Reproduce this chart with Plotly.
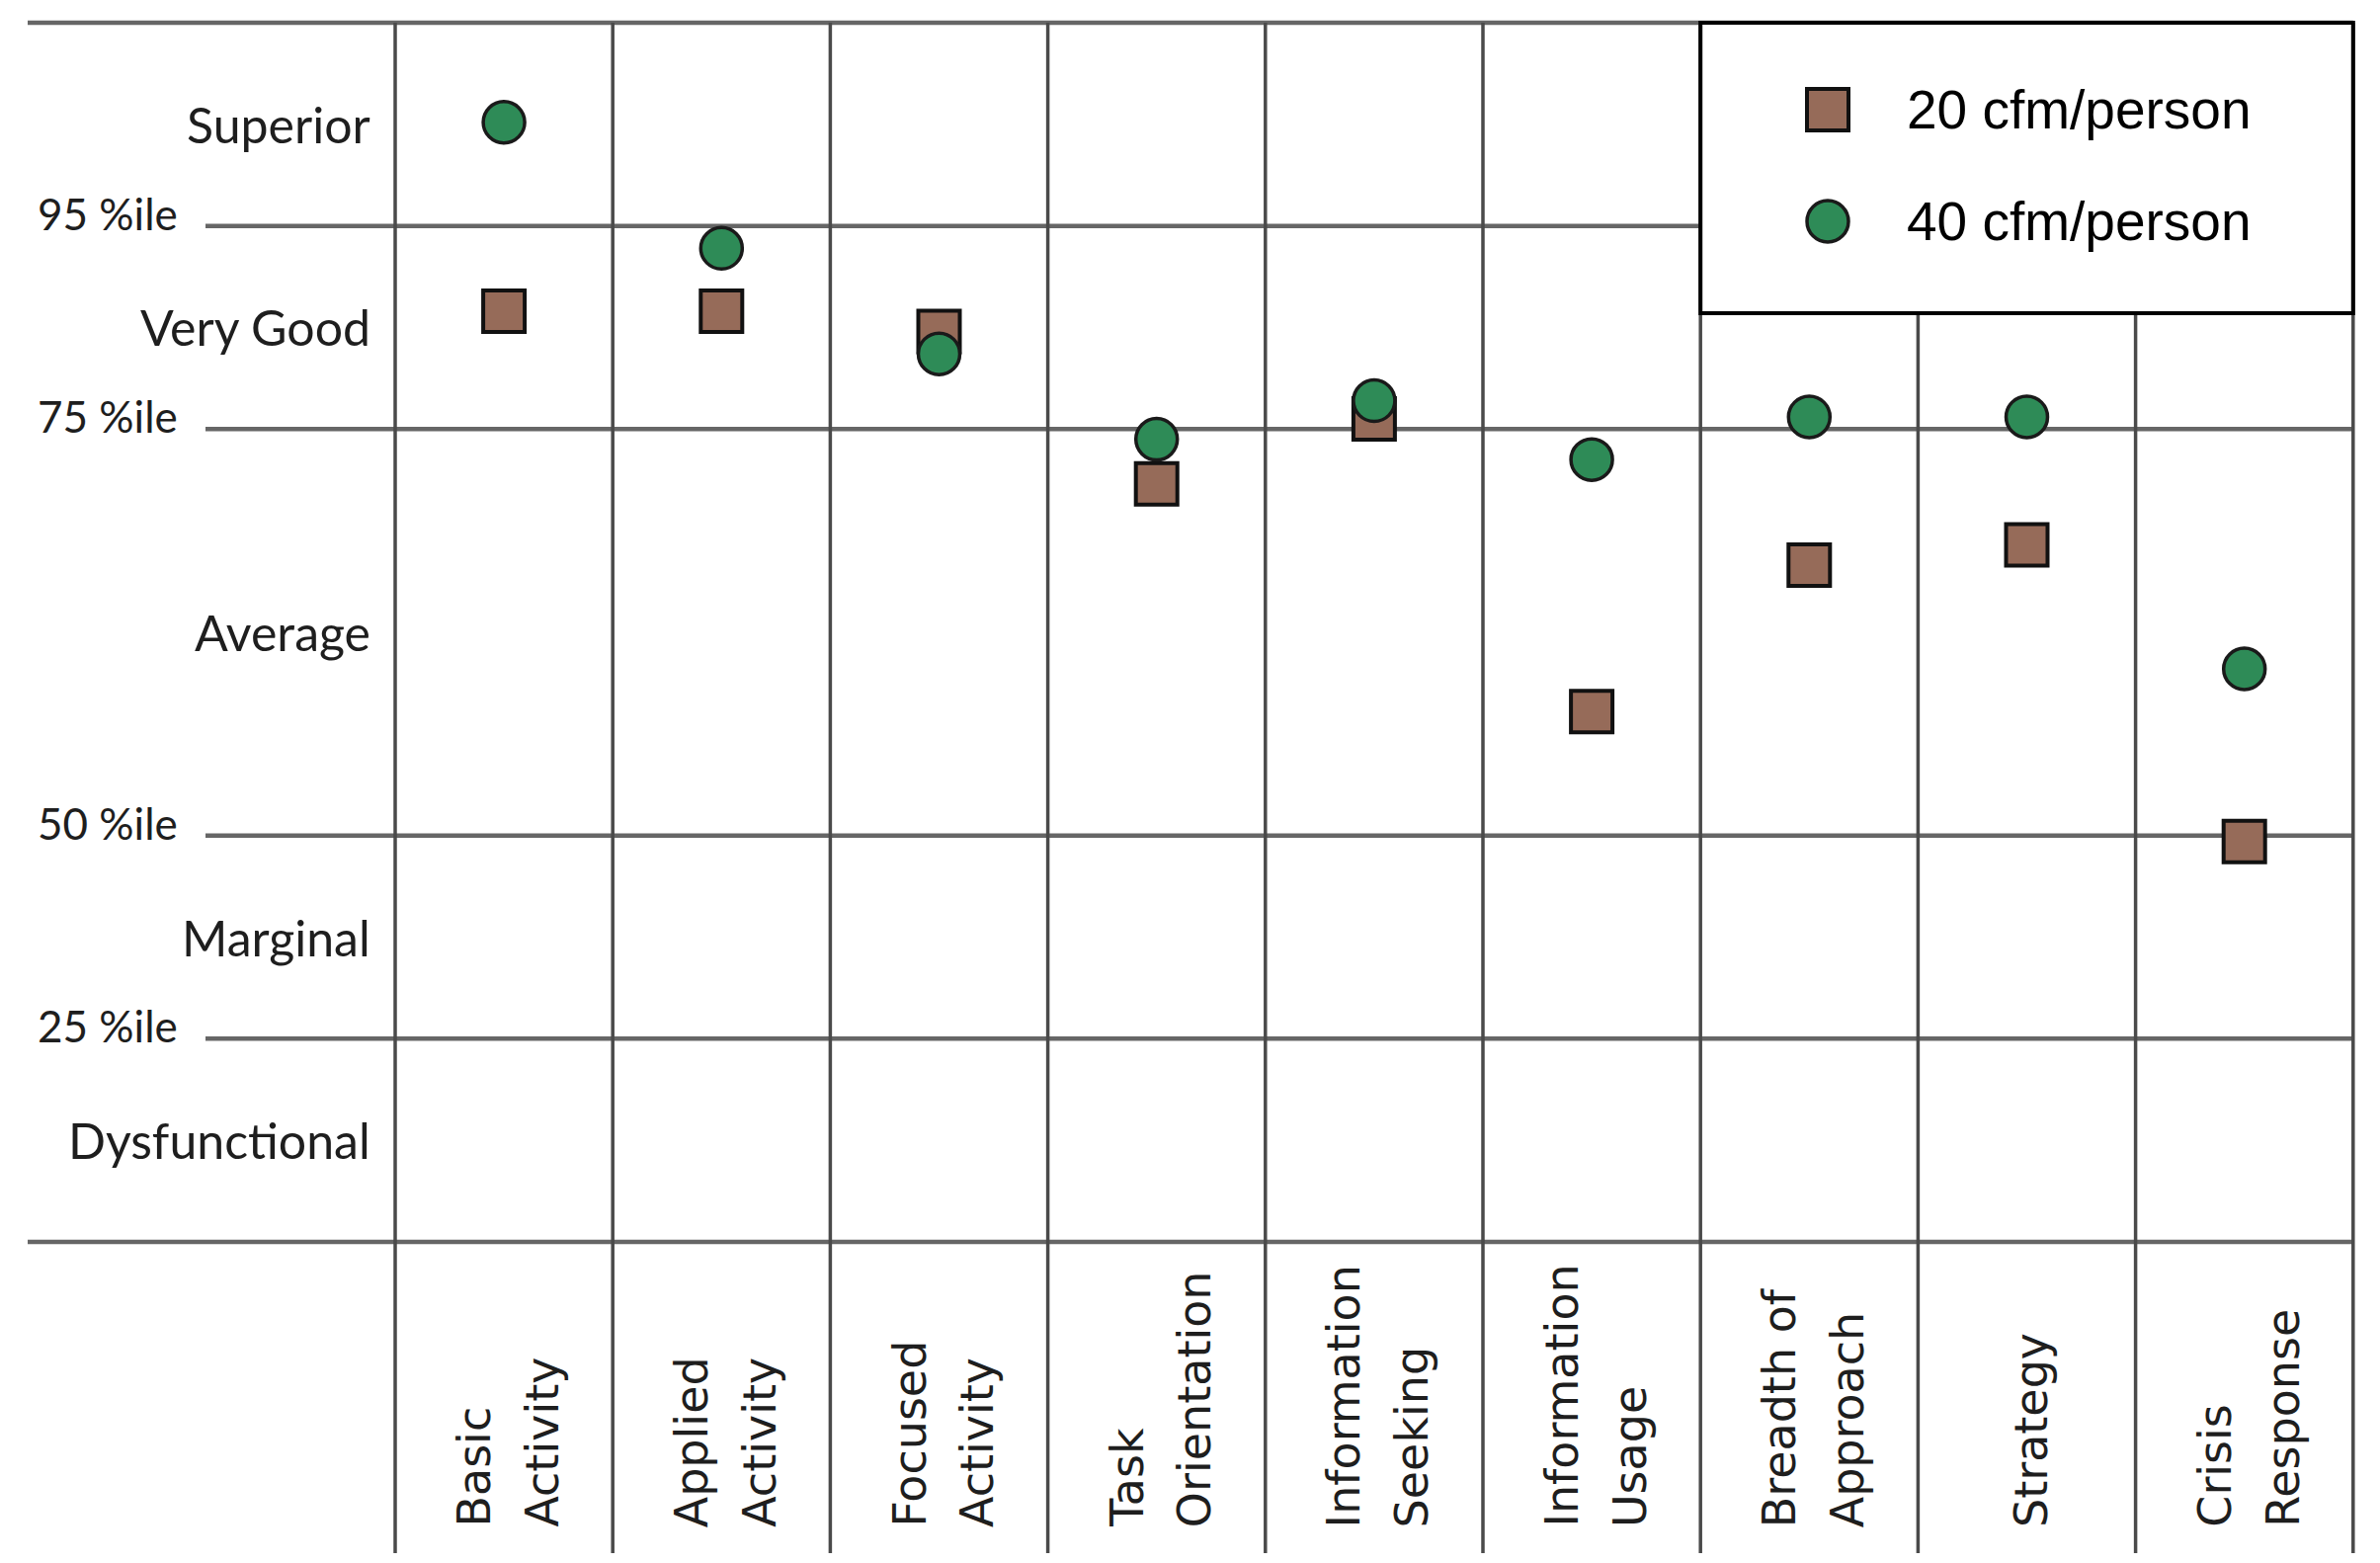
import plotly.graph_objects as go

# ---------------- data ----------------
categories = ["Basic Activity", "Applied Activity", "Focused Activity", "Task Orientation",
              "Information Seeking", "Information Usage", "Breadth of Approach",
              "Strategy", "Crisis Response"]
# axis label lines for each category (as printed under the columns)
category_lines = [["Basic", "Activity"], ["Applied", "Activity"], ["Focused", "Activity"],
                  ["Task", "Orientation"], ["Information", "Seeking"], ["Information", "Usage"],
                  ["Breadth of", "Approach"], ["Strategy"], ["Crisis", "Response"]]

series_names = ["20 cfm/person", "40 cfm/person"]
# rating scale units: 0 = bottom, 1 = 25 %ile, 2 = 50 %ile, 4 = 75 %ile, 5 = 95 %ile, 6 = top
cfm20 = [4.58, 4.58, 4.48, 3.73, 4.05, 2.61, 3.33, 3.43, 1.97]
cfm40 = [5.51, 4.89, 4.37, 3.95, 4.14, 3.85, 4.06, 4.06, 2.82]

band_edges = [0, 1, 2, 4, 5, 6]
band_labels = ["Dysfunctional", "Marginal", "Average", "Very Good", "Superior"]
pct_levels = [1, 2, 4, 5]
pct_labels = ["25 %ile", "50 %ile", "75 %ile", "95 %ile"]

# ---------------- layout constants ----------------
W, H = 2409, 1582          # browser window
PAGE_MARGIN = 8            # default body margin of the html page
FW, FH = W - 2 * PAGE_MARGIN, H - 2 * PAGE_MARGIN

COL0_PX, COL_W_PX = 400.0, 220.2     # first column boundary and column width (screen px)
BASE_PX, UNIT_PX = 1257.0, 205.67    # rating 0 line and one rating unit (screen px)


def xd(s):   # screen px -> x data
    return (s - COL0_PX) / COL_W_PX - 0.5


def yd(s):   # screen px -> y data
    return (BASE_PX - s) / UNIT_PX


def xp(s):   # screen px -> paper x
    return (s - PAGE_MARGIN) / FW


def yp(s):   # screen px -> paper y
    return 1 - (s - PAGE_MARGIN) / FH


X_RANGE = [xd(PAGE_MARGIN), xd(PAGE_MARGIN + FW)]
Y_RANGE = [yd(PAGE_MARGIN + FH), yd(PAGE_MARGIN)]

HLINE_COLOR = "#666666"
VLINE_COLOR = "#4a4a4a"
BROWN = "#966b59"
GREEN = "#2e8b57"
LABEL_FONT = "Lato, 'Open Sans', sans-serif"
TICK_FONT = "DejaVu Sans, Verdana, sans-serif"
LEGEND_FONT = "Liberation Sans, Arial, sans-serif"

n = len(categories)
x_idx = list(range(n))

fig = go.Figure()

shapes = []
# horizontal band lines
outer_start = xd(28)
inner_start = xd(208)
for lv in band_edges:
    x0 = outer_start if lv in (band_edges[0], band_edges[-1]) else inner_start
    shapes.append(dict(type="line", xref="x", yref="y", x0=x0, x1=n - 0.5, y0=lv, y1=lv,
                       line=dict(color=HLINE_COLOR, width=4.5), layer="below"))
# vertical column lines
y_bottom = yd(1572)
for i in range(n + 1):
    shapes.append(dict(type="line", xref="x", yref="y", x0=i - 0.5, x1=i - 0.5,
                       y0=y_bottom, y1=band_edges[-1],
                       line=dict(color=VLINE_COLOR, width=3.5), layer="below"))
# legend box (covers grid in the upper right)
leg_x0, leg_x1 = n - 3.5, n - 0.5
leg_y0, leg_y1 = yd(317), band_edges[-1]
shapes.append(dict(type="rect", xref="x", yref="y", x0=leg_x0, x1=leg_x1, y0=leg_y0, y1=leg_y1,
                   fillcolor="white", line=dict(color="black", width=4), layer="below"))

# data traces
fig.add_trace(go.Scatter(x=x_idx, y=cfm20, mode="markers", name=series_names[0],
                         marker=dict(symbol="square", size=42, color=BROWN,
                                     line=dict(color="#111111", width=4)),
                         showlegend=False))
fig.add_trace(go.Scatter(x=x_idx, y=cfm40, mode="markers", name=series_names[1],
                         marker=dict(symbol="circle", size=42, color=GREEN,
                                     line=dict(color="#1a1a1a", width=3.5)),
                         showlegend=False))

# custom legend keys inside the box
leg_key_x = xd(1850)
leg_text_x = xd(1928)
leg_rows = [yd(111), yd(224)]
fig.add_trace(go.Scatter(x=[leg_key_x], y=[leg_rows[0]], mode="markers", hoverinfo="skip",
                         marker=dict(symbol="square", size=42, color=BROWN,
                                     line=dict(color="#111111", width=4)), showlegend=False))
fig.add_trace(go.Scatter(x=[leg_key_x], y=[leg_rows[1]], mode="markers", hoverinfo="skip",
                         marker=dict(symbol="circle", size=42, color=GREEN,
                                     line=dict(color="#1a1a1a", width=3.5)), showlegend=False))

annotations = []
for name, yy in zip(series_names, leg_rows):
    annotations.append(dict(xref="x", yref="y", x=leg_text_x, y=yy, text=name, showarrow=False,
                            xanchor="left", yanchor="middle",
                            font=dict(family=LEGEND_FONT, size=55, color="#000000")))

# band labels (right aligned)
for k, lab in enumerate(band_labels):
    yc = (band_edges[k] + band_edges[k + 1]) / 2
    annotations.append(dict(xref="paper", yref="y", x=xp(377), y=yc, text=lab, showarrow=False,
                            xanchor="right", yanchor="middle",
                            font=dict(family=LABEL_FONT, size=50, color="#1e1e1e")))
# percentile labels (left aligned, just above their lines)
for lv, lab in zip(pct_levels, pct_labels):
    annotations.append(dict(xref="paper", yref="y", x=xp(36), y=lv, text=lab, showarrow=False,
                            xanchor="left", yanchor="middle", yshift=13,
                            font=dict(family=LABEL_FONT, size=44, color="#1e1e1e")))

# rotated category labels at the bottom
line_gap = 69
for i, lines in enumerate(category_lines):
    m = len(lines)
    for j, ln in enumerate(lines):
        annotations.append(dict(xref="x", yref="paper", x=i, y=yp(1548), text=ln,
                                showarrow=False, textangle=-90, xanchor="center", yanchor="bottom",
                                xshift=(j - (m - 1) / 2) * line_gap + 4,
                                font=dict(family=TICK_FONT, size=46, color="#1e1e1e")))

fig.update_layout(
    width=FW, height=FH,
    margin=dict(l=0, r=0, t=0, b=0),
    paper_bgcolor="white", plot_bgcolor="white",
    xaxis=dict(range=X_RANGE, visible=False, fixedrange=True),
    yaxis=dict(range=Y_RANGE, visible=False, fixedrange=True),
    shapes=shapes, annotations=annotations, showlegend=False,
)

fig.write_html("out.html")
